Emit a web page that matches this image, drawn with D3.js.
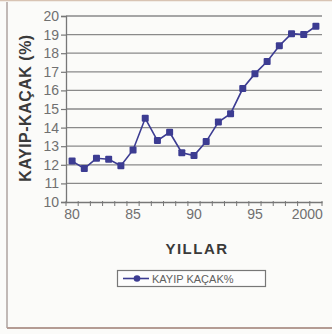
<!DOCTYPE html>
<html>
<head>
<meta charset="utf-8">
<script src="https://cdn.jsdelivr.net/npm/d3@7/dist/d3.min.js"></script>
<style>
  html, body { margin: 0; padding: 0; background: #fbfbf9; }
  svg { display: block; font-family: "Liberation Sans", Arial, sans-serif; }
</style>
</head>
<body>
<svg id="chart" width="332" height="334"></svg>
<script>
const years = ["80","81","82","83","84","85","86","87","88","89","90","91","92","93","94","95","96","97","98","99","2000"];
const values = [12.2, 11.8, 12.35, 12.3, 11.95, 12.8, 14.5, 13.3, 13.75, 12.65, 12.5, 13.25, 14.3, 14.75, 16.1, 16.9, 17.55, 18.4, 19.05, 19.0, 19.45];
const xTickLabels = ["80","85","90","95","2000"];
const yTicks = [10,11,12,13,14,15,16,17,18,19,20];
const seriesName = "KAYIP KAÇAK%";
const yTitle = "KAYIP-KAÇAK (%)";
const xTitle = "YILLAR";

const svg = d3.select("#chart");
const pLeft = 66, pRight = 322, pTop = 16, pBottom = 202;
const lineColor = "#3c3c92";

// frame
svg.append("line").attr("x1", 7).attr("x2", 7).attr("y1", 2).attr("y2", 328)
  .attr("stroke", "#aea39f").attr("stroke-width", 1.5);
svg.append("line").attr("x1", 7).attr("x2", 332).attr("y1", 328).attr("y2", 328)
  .attr("stroke", "#b49c94").attr("stroke-width", 2);
svg.append("line").attr("x1", 0).attr("x2", 332).attr("y1", 0.5).attr("y2", 0.5)
  .attr("stroke", "#d8c4b4").attr("stroke-width", 1.5);

const x = d3.scaleBand().domain(years).range([pLeft, pRight]);
const y = d3.scaleLinear().domain([10, 20]).range([pBottom, pTop]);

// gridlines
svg.append("g").selectAll("line").data(yTicks.filter(d => d > 10)).join("line")
  .attr("x1", pLeft).attr("x2", pRight)
  .attr("y1", d => y(d)).attr("y2", d => y(d))
  .attr("stroke", "#8a8a8a").attr("stroke-width", 1.3);

// y axis
const yAxis = svg.append("g").attr("transform", `translate(${pLeft},0)`)
  .call(d3.axisLeft(y).tickValues(yTicks).tickSize(5).tickPadding(2));
yAxis.select(".domain").attr("stroke", "#777").attr("stroke-width", 1.3);
yAxis.selectAll(".tick line").attr("stroke", "#777").attr("stroke-width", 1.2);
yAxis.selectAll(".tick text").attr("fill", "#707070").attr("font-size", 14)
  .attr("font-family", "Liberation Sans, Arial, sans-serif");

// x axis
const xAxis = svg.append("g").attr("transform", `translate(0,${pBottom})`)
  .call(d3.axisBottom(x).tickValues(xTickLabels).tickSize(0).tickPadding(7));
xAxis.select(".domain").attr("stroke", "#777").attr("stroke-width", 1.3);
xAxis.selectAll(".tick text").attr("fill", "#707070").attr("font-size", 14)
  .attr("font-family", "Liberation Sans, Arial, sans-serif");
xAxis.selectAll(".tick text").filter(d => d === "2000")
  .attr("text-anchor", "end").attr("dx", "7");
// category boundary ticks
const bounds = years.map(d => x(d)).concat([x(years[years.length - 1]) + x.bandwidth()]);
svg.append("g").selectAll("line").data(bounds).join("line")
  .attr("x1", d => d).attr("x2", d => d)
  .attr("y1", pBottom - 1).attr("y2", pBottom + 4)
  .attr("stroke", "#777").attr("stroke-width", 1);

// line & markers
const pts = years.map((d, i) => [x(d) + x.bandwidth() / 2, y(values[i])]);
svg.append("path").datum(pts)
  .attr("d", d3.line())
  .attr("fill", "none").attr("stroke", lineColor).attr("stroke-width", 1.6);
svg.append("g").selectAll("rect").data(pts).join("rect")
  .attr("x", d => d[0] - 3.5).attr("y", d => d[1] - 3.5)
  .attr("width", 7).attr("height", 7).attr("rx", 1)
  .attr("fill", lineColor);

// titles
svg.append("text")
  .attr("transform", `translate(31,108) rotate(-90)`)
  .attr("text-anchor", "middle")
  .attr("font-size", 16).attr("font-weight", "bold")
  .attr("letter-spacing", 0.5)
  .attr("fill", "#3a3a3a")
  .text(yTitle);
svg.append("text")
  .attr("x", 197).attr("y", 254)
  .attr("text-anchor", "middle")
  .attr("font-size", 15).attr("font-weight", "bold")
  .attr("letter-spacing", 1.5)
  .attr("fill", "#3a3a3a")
  .text(xTitle);

// legend
const lg = svg.append("g");
lg.append("rect").attr("x", 117.5).attr("y", 270.5).attr("width", 148).attr("height", 16)
  .attr("fill", "#fdfdfd").attr("stroke", "#777").attr("stroke-width", 1.2);
lg.append("line").attr("x1", 123).attr("x2", 149).attr("y1", 278.5).attr("y2", 278.5)
  .attr("stroke", lineColor).attr("stroke-width", 1.6);
lg.append("circle").attr("cx", 137).attr("cy", 278.5).attr("r", 3.3).attr("fill", lineColor);
lg.append("text").attr("x", 152).attr("y", 282.5)
  .attr("font-size", 11).attr("fill", "#606060")
  .text(seriesName);
</script>
</body>
</html>
